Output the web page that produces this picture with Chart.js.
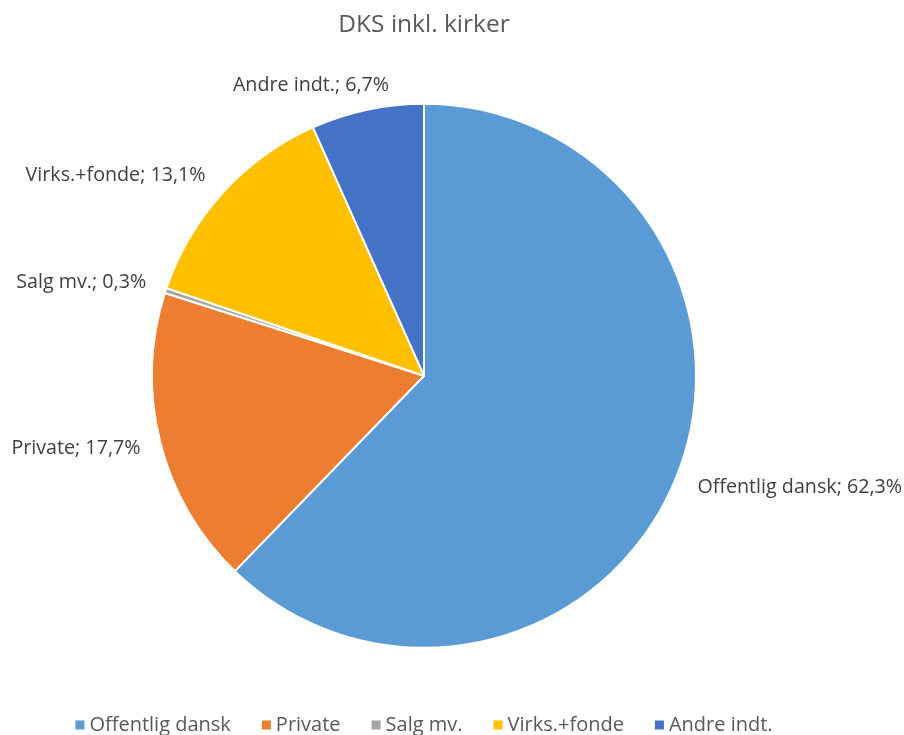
<!DOCTYPE html>
<html>
<head>
<meta charset="utf-8">
<script src="https://cdn.jsdelivr.net/npm/chart.js@4/dist/chart.umd.min.js"></script>
<style>
  html, body { margin: 0; padding: 0; background: #fff; }
  canvas { display: block; }
</style>
</head>
<body>
<canvas id="pie" width="904" height="735"></canvas>
<script>
// ---------- data ----------
const categories = ['Offentlig dansk', 'Private', 'Salg mv.', 'Virks.+fonde', 'Andre indt.'];
const shares = [62.3, 17.7, 0.3, 13.1, 6.7];
const sliceColors = ['#5B9BD5', '#ED7D31', '#A5A5A5', '#FFC000', '#4472C4'];

const FONT = '"Open Sans", sans-serif';
const TEXT_COLOR = '#404040';

function fmt(v) {
  return v.toFixed(1).replace('.', ',') + '%';
}

// ---------- outside labels "Name; x,x%" ----------
const outsideLabels = {
  id: 'outsideLabels',
  afterDatasetsDraw(chart) {
    const ctx = chart.ctx;
    const meta = chart.getDatasetMeta(0);
    ctx.save();
    ctx.font = '19.7px ' + FONT;
    ctx.fillStyle = TEXT_COLOR;
    ctx.textBaseline = 'middle';
    meta.data.forEach((arc, i) => {
      const p = arc.getProps(['x', 'y', 'startAngle', 'endAngle', 'outerRadius'], true);
      const mid = (p.startAngle + p.endAngle) / 2;
      const cos = Math.cos(mid), sin = Math.sin(mid);
      const ax = p.x + (p.outerRadius + 10) * cos;
      const ay = p.y + (p.outerRadius + 10) * sin;
      const text = chart.data.labels[i] + '; ' + fmt(chart.data.datasets[0].data[i]);
      let x;
      if (cos >= 0) {
        ctx.textAlign = 'left';
        x = ax + 12;
      } else {
        ctx.textAlign = 'right';
        x = Math.abs(cos) < 0.3 ? ax + 24 : ax - 10;
      }
      ctx.fillText(text, x, ay + sin * 15);
    });
    ctx.restore();
  }
};

// ---------- legend row at the bottom ----------
const bottomLegend = {
  id: 'bottomLegend',
  afterDraw(chart) {
    const ctx = chart.ctx;
    const items = chart.data.labels;
    const box = 9, gap = 5, spacing = 31;
    ctx.save();
    ctx.font = '20px ' + FONT;
    const widths = items.map(t => ctx.measureText(t).width);
    const total = widths.reduce((a, w) => a + box + gap + w, 0) + spacing * (items.length - 1);
    const cx = (chart.chartArea.left + chart.chartArea.right) / 2;
    let x = cx - total / 2;
    const y = 725;
    ctx.textBaseline = 'middle';
    ctx.textAlign = 'left';
    items.forEach((t, i) => {
      ctx.fillStyle = chart.data.datasets[0].backgroundColor[i];
      ctx.fillRect(x, y - box / 2, box, box);
      x += box + gap;
      ctx.fillStyle = '#595959';
      ctx.fillText(t, x, y);
      x += widths[i] + spacing;
    });
    ctx.restore();
  }
};

new Chart(document.getElementById('pie'), {
  type: 'pie',
  data: {
    labels: categories,
    datasets: [{
      data: shares,
      backgroundColor: sliceColors,
      borderColor: '#ffffff',
      borderWidth: 2
    }]
  },
  options: {
    responsive: false,
    animation: false,
    layout: { padding: { left: 151, right: 207, top: 0, bottom: 30 } },
    plugins: {
      legend: { display: false },
      tooltip: { enabled: false },
      title: {
        display: true,
        text: 'DKS inkl. kirker',
        color: '#595959',
        font: { family: FONT, size: 24.5, weight: 'normal' },
        padding: { top: 10, bottom: 7 }
      }
    }
  },
  plugins: [outsideLabels, bottomLegend]
});
</script>
</body>
</html>
